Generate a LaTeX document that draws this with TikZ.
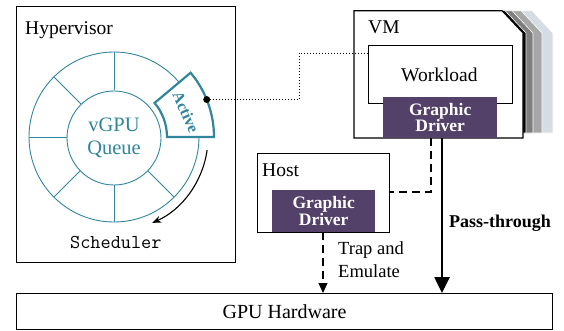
\documentclass[tikz,border=0pt]{standalone}
\usepackage{fontspec}
\setmainfont{Liberation Serif}
\usetikzlibrary{arrows.meta}
\definecolor{ringteal}{HTML}{31859C}
\definecolor{drvpurple}{HTML}{54416A}
\definecolor{layerA}{HTML}{D6DCE4}
\definecolor{layerB}{HTML}{A6A6A6}
\definecolor{layerC}{HTML}{7F7F7F}
\tikzset{
  box/.style={draw=black, line width=1.1pt, rectangle, inner sep=0pt, anchor=north west},
  lbl/.style={font=\fontsize{19.5}{22}\selectfont, inner sep=0pt, anchor=base west},
  driver/.style={rectangle, fill=drvpurple, text=white, anchor=north west, inner sep=0pt,
    align=center, font=\bfseries\fontsize{17.5}{17.5}\selectfont},
  ringline/.style={draw=ringteal, line width=0.9pt},
  layer/.style={line width=0.6pt, draw=white},
}
\begin{document}
\begin{tikzpicture}[x=1pt,y=-1pt]
\useasboundingbox (0,0) rectangle (564,330);

% Hypervisor
\node[box, minimum width=219, minimum height=256] (hyp) at (16,6) {};
\node[lbl] (hyplbl) at (25,34) {Hypervisor};

% ring
\coordinate (ring) at (114,137);
\node[circle, ringline, minimum size=170, inner sep=0pt] (outer) at (ring) {};
\begin{scope}[shift={(ring)}, yscale=-1]
  \foreach \a in {90,135,180,225,270,315}
    \draw[ringline] (\a:47) -- (\a:85);
\end{scope}
\node[circle, ringline, fill=white, minimum size=94, inner sep=0pt, align=center,
  text=ringteal, font=\fontsize{20.5}{23}\selectfont] (queue) at (114,138) {vGPU\\Queue};
\begin{scope}[shift={(ring)}, yscale=-1]
  \draw[ringteal, line width=2.2pt, fill=white, line join=miter]
    (0:53) -- (0:100) arc[start angle=0, end angle=40, radius=100]
    -- (40:53) arc[start angle=40, end angle=0, radius=53] -- cycle;
  \node[rotate=-66, text=ringteal, font=\bfseries\fontsize{16}{16}\selectfont, inner sep=0pt]
    (act) at (19:76) {Active};
  \node[circle, fill=black, inner sep=0pt, minimum size=7] (dot) at (22:100) {};
  \draw[-{Stealth[length=9pt, width=7pt]}, line width=1.1pt]
    (-8:94) arc[start angle=-8, end angle=-66, radius=94];
\end{scope}
\node[inner sep=0pt, anchor=base west, font=\ttfamily\fontsize{19.7}{20}\selectfont] (sched) at (70,248) {Scheduler};

% VM stack
\foreach \dx/\col in {30/layerA, 19/layerB, 10/layerC, 3/black}
  \fill[\col, layer] (354+\dx,10.7) -- (502+\dx,10.7) -- (523+\dx,33) -- (523+\dx,133) -- (354+\dx,133) -- cycle;
\draw[line width=1.1pt, fill=white] (354,10.7) -- (502,10.7) -- (523,33) -- (523,138) -- (354,138) -- cycle;
\coordinate (vm) at (354,10.7);
\node[lbl] (vmlbl) at (368,33.3) {VM};
\node[box, minimum width=144, minimum height=58] (work) at (368,45) {};
\node[lbl] (worklbl) at (401,81.7) {Workload};
\node[driver, minimum width=114, minimum height=41] (vmdrv) at (383,97) {Graphic\\[-1pt]Driver};

% Host
\node[box, minimum width=132, minimum height=79] (host) at (257,153) {};
\node[lbl] (hostlbl) at (262,176.7) {Host};
\node[driver, minimum width=103, minimum height=42] (hostdrv) at (272,190) {Graphic\\[-1pt]Driver};

% GPU hardware
\node[box, minimum width=536, minimum height=36, anchor=north west] (gpu) at (16,293) {};
\node[font=\fontsize{20}{22}\selectfont, inner sep=0pt] (gpulbl) at (gpu.center) {GPU Hardware};

% connectors
\coordinate (d1) at (299,53);
\draw[dotted, line width=1pt] (dot.center) -- (d1 |- dot.center) -- (d1) -- (work.west |- d1);

\coordinate (vmdash) at (431,138);
\coordinate (hostdash) at (389,192);
\draw[dash pattern=on 8pt off 5pt, line width=1.1pt] (vmdash) |- (hostdash);

\coordinate (pt) at (442,138);
\draw[line width=2.6pt, -{Triangle[length=16pt, width=15pt]}] (pt) -- (pt |- gpu.north);
\node[inner sep=0pt, anchor=west, font=\bfseries\fontsize{18}{20}\selectfont] (ptlbl) at (449,223) {Pass-through};

\coordinate (tr) at (323,232);
\draw[dash pattern=on 8pt off 5pt, line width=1.1pt, -{Triangle[length=10pt, width=9pt]}] (tr) -- (tr |- gpu.north);
\node[inner sep=0pt, anchor=west, align=left, font=\fontsize{18.5}{23}\selectfont] (trlbl) at (338,260) {Trap and\\Emulate};
\end{tikzpicture}
\end{document}
